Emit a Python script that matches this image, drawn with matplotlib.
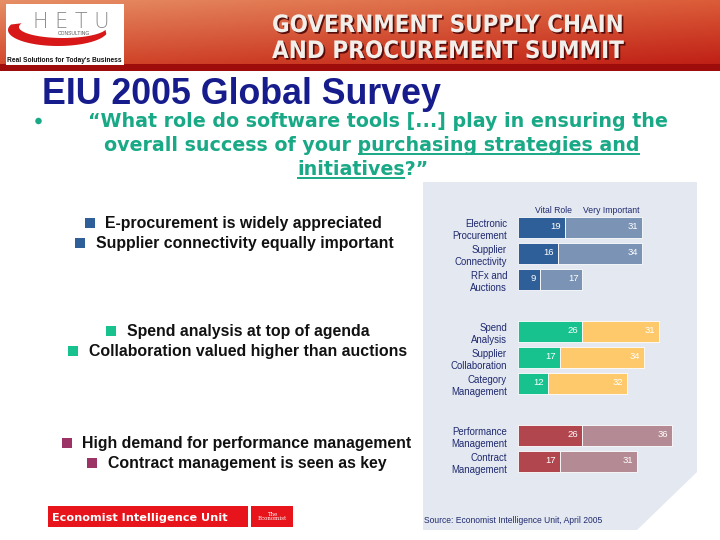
import numpy as np
import matplotlib
matplotlib.use("Agg")
import matplotlib.pyplot as plt
from matplotlib import font_manager as fm
from matplotlib.patches import Polygon, Rectangle, Ellipse
import matplotlib.patheffects as pe

# ---------------- data ----------------
categories = ["Electronic\nProcurement", "Supplier\nConnectivity", "RFx and\nAuctions",
              "Spend\nAnalysis", "Supplier\nCollaboration", "Category\nManagement",
              "Performance\nManagement", "Contract\nManagement"]
group_of = [0, 0, 0, 1, 1, 1, 2, 2]
vital_role = [19, 16, 9, 26, 17, 12, 26, 17]
very_important = [31, 34, 17, 31, 34, 32, 36, 31]
series_labels = ["Vital Role", "Very Important"]

bullet_groups = [
    ["E-procurement is widely appreciated", "Supplier connectivity equally important"],
    ["Spend analysis at top of agenda", "Collaboration valued higher than auctions"],
    ["High demand for performance management", "Contract management is seen as key"],
]

title = "EIU 2005 Global Survey"
question_lines = ["\u201cWhat role do software tools [...] play in ensuring the",
                  "overall success of your purchasing strategies and",
                  "initiatives?\u201d"]
source = "Source: Economist Intelligence Unit, April 2005"

# ---------------- styles ----------------
dark_cols = ["#2f5f98", "#17c28e", "#b1464f"]
light_cols = ["#7b93b5", "#fdc96b", "#b48a94"]
bullet_cols = ["#2f5f98", "#17c28e", "#9c3366"]
navy = "#1f2a6e"
green_q = "#19a986"
FONT = "Liberation Sans"
QFONT = "DejaVu Sans"

fig = plt.figure(figsize=(7.2, 5.4), dpi=100)
fig.patch.set_facecolor("white")
bg = fig.add_axes([0, 0, 1, 1])
bg.set_xlim(0, 720)
bg.set_ylim(540, 0)
bg.axis("off")
renderer = fig.canvas.get_renderer()


def fit(x, y, s, width, size0=12, **kw):
    t = bg.text(x, y, s, fontsize=size0, **kw)
    w = t.get_window_extent(renderer).width
    t.set_fontsize(size0 * width / w)
    return t


def measure(s, size, **kw):
    t = bg.text(0, 0, s, fontsize=size, **kw)
    w = t.get_window_extent(renderer).width
    t.remove()
    return w


# ---------------- banner ----------------
H, W = 71, 720
yy = np.linspace(0, 1, H)[:, None, None]
xx = np.linspace(0, 1, W)[None, :, None]
c_tl = np.array([0.90, 0.56, 0.40])
c_tr = np.array([0.86, 0.36, 0.22])
c_bl = np.array([0.82, 0.26, 0.15])
c_br = np.array([0.74, 0.10, 0.07])
img = (1 - yy) * ((1 - xx) * c_tl + xx * c_tr) + yy * ((1 - xx) * c_bl + xx * c_br)
img[64:, :, :] = np.array([0.62, 0.05, 0.05])
bg.imshow(img, extent=(0, 720, 71, 0), aspect="auto", zorder=0, interpolation="bilinear")
bg.set_xlim(0, 720)
bg.set_ylim(540, 0)

# condensed font for banner text if available
cond_path = None
for f in fm.fontManager.ttflist:
    st = str(f.stretch).lower()
    if ("condensed" in st or "narrow" in f.name.lower() or "condensed" in f.name.lower()) \
            and str(f.weight) in ("bold", "700", "heavy", "800", "black", "900"):
        cond_path = f.fname
        break
if cond_path:
    bprops = dict(fontproperties=fm.FontProperties(fname=cond_path))
else:
    bprops = dict(family=FONT, fontweight="bold")

shadow = [pe.withSimplePatchShadow(offset=(1.2, -1.2), shadow_rgbFace="#4a0505", alpha=0.9)]
for txt, yb in [("GOVERNMENT SUPPLY CHAIN", 32), ("AND PROCUREMENT SUMMIT", 58)]:
    t = fit(272, yb, txt, 351, 20, color="#f2eeea", va="baseline", ha="left", zorder=3, **bprops)
    t.set_path_effects(shadow)

# logo
bg.add_patch(Rectangle((6, 4), 118, 61, facecolor="white", edgecolor="none", zorder=2))
th = np.linspace(np.radians(160), np.radians(345), 80)
outer = np.c_[58 + 50 * np.cos(th), 30 - 16 * np.sin(th)]
th2 = th[::-1]
inner = np.c_[63 + 44 * np.cos(th2), 27 - 11 * np.sin(th2)]
bg.add_patch(Polygon(np.vstack([outer, inner]), closed=True, facecolor="#d81818",
                     edgecolor="none", zorder=3))
bg.text(71, 28, "H E T U", fontsize=15, color="#8a8a8a", family="DejaVu Sans",
        fontweight="light", ha="center", va="baseline", zorder=4)
bg.text(74, 35, "CONSULTING", fontsize=3.6, color="#555555", family=FONT,
        ha="center", va="baseline", zorder=4)
fit(7, 61.5, "Real Solutions for Today's Business", 115, 5, color="#111111", family=FONT,
    fontweight="bold", va="baseline", zorder=4)

# ---------------- title & question ----------------
fit(42, 104, title, 400, 26, color="#161c8c", family=FONT, fontweight="bold", va="baseline")
bg.add_patch(Ellipse((38.5, 121), 6.5, 6.5, facecolor=green_q, edgecolor="none"))
qkw = dict(color=green_q, family=QFONT, fontweight="bold", va="baseline")
t1 = fit(88, 127, question_lines[0], 576, 12, **qkw)
qsize = t1.get_fontsize()
t2 = bg.text(104, 151, question_lines[1], fontsize=qsize, **qkw)
w2 = t2.get_window_extent(renderer).width
wu2 = measure("purchasing strategies and", qsize, family=QFONT, fontweight="bold")
bg.plot([104 + w2 - wu2, 104 + w2], [153.8, 153.8], color=green_q, lw=1.4,
        solid_capstyle="butt")
w3 = measure(question_lines[2], qsize, family=QFONT, fontweight="bold")
x3 = 363 - w3 / 2
bg.text(x3, 175, question_lines[2], fontsize=qsize, **qkw)
wu3 = measure("initiatives", qsize, family=QFONT, fontweight="bold")
bg.plot([x3, x3 + wu3], [177.8, 177.8], color=green_q, lw=1.4, solid_capstyle="butt")

# ---------------- left bullets ----------------
bullet_pos = [[(85, 228, 105), (75, 248, 96)],
              [(106, 336, 127), (68, 356, 89)],
              [(62, 448, 82), (87, 468, 108)]]
ref = fit(0, -50, bullet_groups[2][0], 331, 11, family=FONT, fontweight="bold")
bsize = ref.get_fontsize()
ref.remove()
for g, (lines, poss) in enumerate(zip(bullet_groups, bullet_pos)):
    for s, (bx, yb, tx) in zip(lines, poss):
        bg.add_patch(Rectangle((bx, yb - 10), 9.5, 9.5, facecolor=bullet_cols[g],
                               edgecolor="none"))
        bg.text(tx, yb, s, fontsize=bsize, color="#111111", family=FONT,
                fontweight="bold", va="baseline")

# ---------------- chart panel ----------------
bg.add_patch(Polygon([(423, 182), (697, 182), (697, 472), (637, 530), (423, 530)],
                     closed=True, facecolor="#e3e8f1", edgecolor="none", zorder=1))
fit(424, 523, source, 180, 6, color=navy, family=FONT, va="baseline", zorder=2)

# bottom logo
bg.add_patch(Rectangle((48, 506), 200, 21, facecolor="#e8141c", edgecolor="none"))
bg.add_patch(Rectangle((251, 506), 42, 21, facecolor="#e8141c", edgecolor="none"))
fit(52, 521, "Economist Intelligence Unit", 174, 10, color="white", family="DejaVu Sans",
    fontweight="bold", va="baseline")
bg.text(272, 516.5, "The\nEconomist", fontsize=4, color="white", family="DejaVu Serif",
        ha="center", va="center", linespacing=0.9)

# ---------------- bar chart ----------------
px_per_unit = 2.48
x0_px = 518
xmax = 70
y0_px = 227.5
slot_px = 26
ytop, ybot = -0.9, 9.6
ax = fig.add_axes([x0_px / 720, 1 - (y0_px + ybot * slot_px) / 540,
                   xmax * px_per_unit / 720, (ybot - ytop) * slot_px / 540])
ax.set_xlim(0, xmax)
ax.set_ylim(ybot, ytop)
ax.patch.set_alpha(0)
for sp in ax.spines.values():
    sp.set_visible(False)
ax.set_xticks([])

ypos = np.array([i + 1.0 * g for i, g in enumerate(group_of)])

c1 = [dark_cols[g] for g in group_of]
c2 = [light_cols[g] for g in group_of]
ax.barh(ypos, vital_role, height=0.8, color=c1, edgecolor="white", linewidth=0.6)
ax.barh(ypos, very_important, left=vital_role, height=0.8, color=c2,
        edgecolor="white", linewidth=0.6)
for y, a, b in zip(ypos, vital_role, very_important):
    ax.text(a - 1.6, y - 0.05, str(a), color="white", fontsize=6.8, family=FONT,
            ha="right", va="center")
    ax.text(a + b - 1.6, y - 0.05, str(b), color="white", fontsize=6.8, family=FONT,
            ha="right", va="center")

ax.set_yticks(ypos, categories)
ax.tick_params(axis="y", length=0, pad=7.9)
for lbl in ax.get_yticklabels():
    lbl.set_fontsize(6.9)
    lbl.set_family(FONT)
    lbl.set_color(navy)
    lbl.set_linespacing(1.3)

ax.text((553.5 - x0_px) / px_per_unit, (210 - y0_px) / slot_px, series_labels[0],
        fontsize=6.2, color=navy, family=FONT, ha="center", va="center")
ax.text((611.5 - x0_px) / px_per_unit, (210 - y0_px) / slot_px, series_labels[1],
        fontsize=6.2, color=navy, family=FONT, ha="center", va="center")

fig.savefig("out.png", dpi=100)
